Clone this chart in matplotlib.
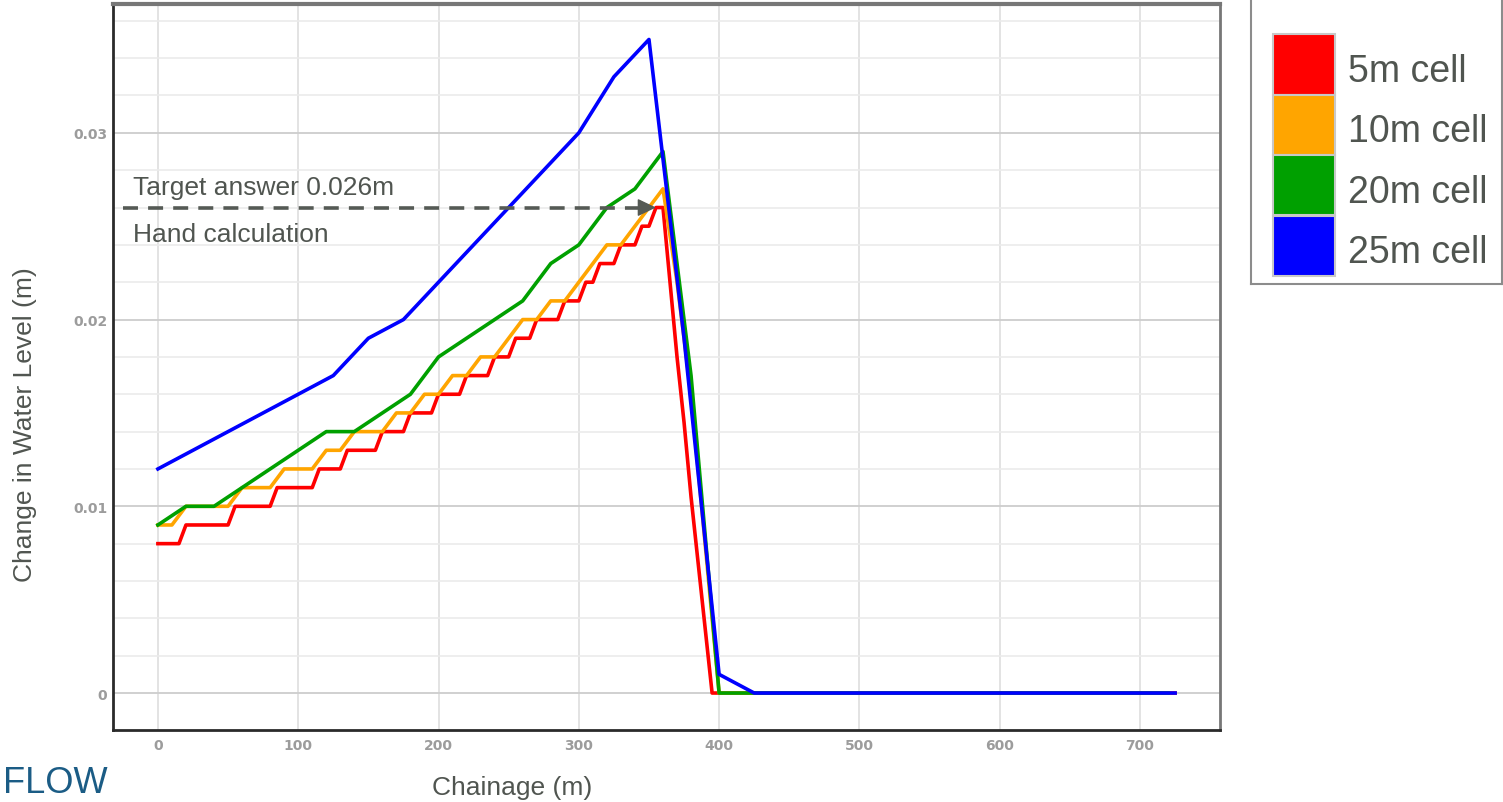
import matplotlib
matplotlib.use("Agg")
import matplotlib.pyplot as plt
from matplotlib.patches import Rectangle
from matplotlib.ticker import MultipleLocator

plt.rcParams["font.family"] = ["Liberation Sans", "DejaVu Sans"]

# --- data (breakpoints) ---
series_labels = ["5m cell", "10m cell", "20m cell", "25m cell"]
series_colors = ["#ff0000", "#ffa500", "#00a000", "#0000ff"]

chain_5m = [0, 15, 20, 50, 55, 80, 85, 110, 115, 130, 135, 155, 160, 175, 180, 195,
            200, 215, 220, 235, 240, 250, 255, 265, 270, 285, 290, 300, 305, 310,
            315, 325, 330, 340, 345, 350, 355, 360, 365, 370, 375, 380, 385, 390,
            395, 725]
level_5m = [0.008, 0.008, 0.009, 0.009, 0.010, 0.010, 0.011, 0.011, 0.012, 0.012,
            0.013, 0.013, 0.014, 0.014, 0.015, 0.015, 0.016, 0.016, 0.017, 0.017,
            0.018, 0.018, 0.019, 0.019, 0.020, 0.020, 0.021, 0.021, 0.022, 0.022,
            0.023, 0.023, 0.024, 0.024, 0.025, 0.025, 0.026, 0.026, 0.022, 0.018,
            0.0145, 0.0105, 0.007, 0.0035, 0.0, 0.0]

chain_10m = [0, 10, 20, 30, 40, 50, 60, 70, 80, 90, 100, 110, 120, 130, 140, 150,
             160, 170, 180, 190, 200, 210, 220, 230, 240, 250, 260, 270, 280, 290,
             300, 310, 320, 330, 340, 350, 360, 370, 380, 390, 400, 720]
level_10m = [0.009, 0.009, 0.010, 0.010, 0.010, 0.010, 0.011, 0.011, 0.011, 0.012,
             0.012, 0.012, 0.013, 0.013, 0.014, 0.014, 0.014, 0.015, 0.015, 0.016,
             0.016, 0.017, 0.017, 0.018, 0.018, 0.019, 0.020, 0.020, 0.021, 0.021,
             0.022, 0.023, 0.024, 0.024, 0.025, 0.026, 0.027, 0.022, 0.016, 0.008,
             0.0, 0.0]

chain_20m = [0, 20, 40, 60, 80, 100, 120, 140, 160, 180, 200, 220, 240, 260, 280,
             300, 320, 340, 360, 380, 400, 720]
level_20m = [0.009, 0.010, 0.010, 0.011, 0.012, 0.013, 0.014, 0.014, 0.015, 0.016,
             0.018, 0.019, 0.020, 0.021, 0.023, 0.024, 0.026, 0.027, 0.029, 0.017,
             0.0, 0.0]

chain_25m = [0, 25, 50, 75, 100, 125, 150, 175, 200, 225, 250, 275, 300, 325, 350,
             375, 400, 425, 725]
level_25m = [0.012, 0.013, 0.014, 0.015, 0.016, 0.017, 0.019, 0.020, 0.022, 0.024,
             0.026, 0.028, 0.030, 0.033, 0.035, 0.019, 0.001, 0.0, 0.0]

chains = [chain_5m, chain_10m, chain_20m, chain_25m]
levels = [level_5m, level_10m, level_20m, level_25m]

x_ticks = [0, 100, 200, 300, 400, 500, 600, 700]
y_ticks = [0, 0.01, 0.02, 0.03]
y_tick_labels = ["0", "0.01", "0.02", "0.03"]

# hand calculation marker
target_level = 0.026
target_from = -25
target_to = 355

text_dark = "#505550"
W, H = 1503, 803

fig = plt.figure(figsize=(W / 100, H / 100), dpi=100)
ax = fig.add_axes([113 / W, 72 / H, 1107 / W, 726 / H])

for xs, ys, c in zip(chains, levels, series_colors):
    ax.plot(xs, ys, color=c, lw=2.6, zorder=3)

ax.set_xlim(-32, 757)
ax.set_ylim(-0.00198, 0.0369)

ax.set_xticks(x_ticks)
ax.set_xticklabels([str(t) for t in x_ticks])
ax.set_yticks(y_ticks)
ax.set_yticklabels(y_tick_labels)
ax.yaxis.set_minor_locator(MultipleLocator(0.002))
ax.tick_params(which="both", length=0)
ax.tick_params(axis="x", pad=6, labelsize=10, labelcolor="#9c9c9c")
ax.tick_params(axis="y", pad=4, labelsize=10, labelcolor="#9c9c9c")
for lbl in ax.get_xticklabels() + ax.get_yticklabels():
    lbl.set_fontfamily("DejaVu Sans")
    lbl.set_fontweight("bold")

ax.grid(which="minor", axis="y", color="#ebebeb", lw=1.2)
ax.grid(which="major", axis="y", color="#cdcdcd", lw=1.3)
ax.grid(which="major", axis="x", color="#dedede", lw=1.2)
ax.set_axisbelow(True)

for side in ["left", "bottom"]:
    ax.spines[side].set_color("#2a2a2a")
    ax.spines[side].set_linewidth(2)
ax.spines["top"].set_color("#777777")
ax.spines["top"].set_linewidth(3)
ax.spines["right"].set_color("#777777")
ax.spines["right"].set_linewidth(2)

# dashed pointer to the hand-calculated value
ax.plot([target_from, target_to - 10], [target_level, target_level],
        color="#555a55", lw=2.6, dashes=(4.15, 2.8), zorder=4)
ax.annotate("", xy=(target_to, target_level), xytext=(target_to - 12, target_level),
            arrowprops=dict(arrowstyle="-|>,head_length=1.15,head_width=0.55",
                            mutation_scale=10, color="#555a55", lw=1,
                            shrinkA=0, shrinkB=0), zorder=5)
ax.text(-18, 0.02673, "Target answer 0.026m", fontsize=19, color=text_dark,
        va="baseline", ha="left")
ax.text(-18, 0.02423, "Hand calculation", fontsize=19, color=text_dark,
        va="baseline", ha="left")

fig.text(512 / W, 1 - 788 / H, "Chainage (m)", fontsize=19, color=text_dark,
         ha="center", va="center")
fig.text(25 / W, 1 - 425 / H, "Change in Water Level (m)", fontsize=19,
         color=text_dark, ha="center", va="center", rotation=90)

# legend drawn as a stacked colour key
lax = fig.add_axes([1251 / W, 1 - 285 / H, 251 / W, 285 / H])
lax.set_xlim(0, 251)
lax.set_ylim(285, 0)
lax.set_xticks([])
lax.set_yticks([])
for sp in lax.spines.values():
    sp.set_color("#8c8c8c")
    sp.set_linewidth(1.5)
lax.spines["top"].set_visible(False)
row_h = 60.5
for i, (lab, c) in enumerate(zip(series_labels, series_colors)):
    top = 35 + i * row_h
    lax.add_patch(Rectangle((22, top), 62, row_h, facecolor=c,
                            edgecolor="#c8c8c8", lw=1.5))
    lax.text(97, top + 47, lab, fontsize=27, color=text_dark,
             ha="left", va="baseline")

# logo fragment in the bottom-left corner
fig.text(3 / W, 10 / H, "FLOW", fontsize=26, color="#1b5c85",
         ha="left", va="baseline")

fig.savefig("out.png", dpi=100)
